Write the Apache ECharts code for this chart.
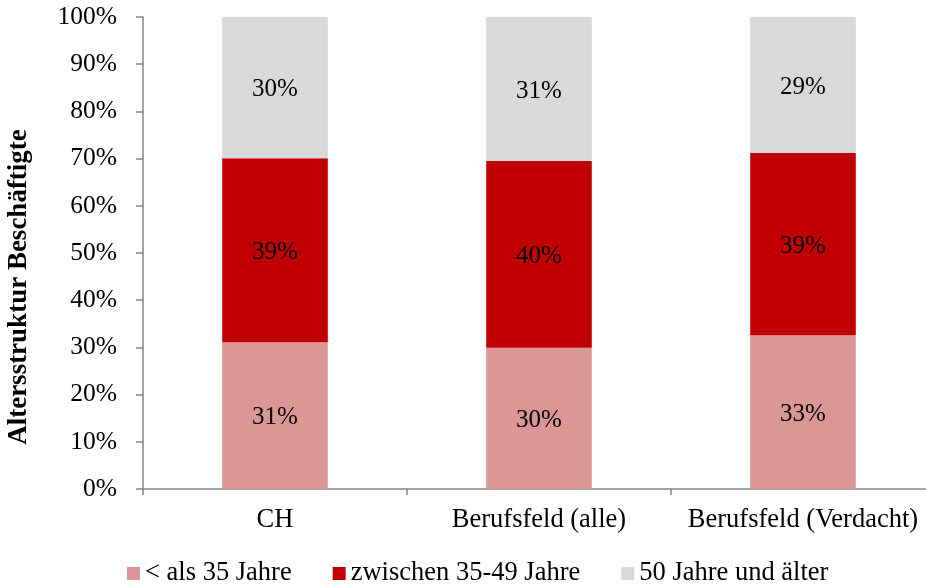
<!DOCTYPE html>
<html>
<head>
<meta charset="utf-8">
<script src="https://cdn.jsdelivr.net/npm/echarts@6/dist/echarts.min.js"></script>
<style>
  html, body { margin: 0; padding: 0; background: #fff; }
  #chart { width: 926px; height: 586px; }
</style>
</head>
<body>
<div id="chart"></div>
<script>
// categories and shares (in %)
const categories = ["CH", "Berufsfeld (alle)", "Berufsfeld (Verdacht)"];
const seriesNames = ["< als 35 Jahre", "zwischen 35-49 Jahre", "50 Jahre und älter"];
const unter35 = [31.1, 29.9, 32.6];
const zwischen35bis49 = [39.0, 39.6, 38.6];
const ab50 = [29.9, 30.5, 28.8];
const colors = ["#D99694", "#C00000", "#D9D9D9"];

const font = '"Liberation Serif", "Times New Roman", serif';
const axisColor = "#868686";

const makeSeries = (name, data, color) => ({
  name: name,
  type: "bar",
  stack: "total",
  barWidth: "40%",
  data: data,
  itemStyle: { color: color },
  label: {
    show: true,
    position: "inside",
    offset: [0, 2],
    color: "#000",
    fontFamily: font,
    fontSize: 25,
    formatter: (p) => Math.round(p.value) + "%",
  },
});

const myChart = echarts.init(document.getElementById("chart"));
myChart.setOption({
  animation: false,
  textStyle: { fontFamily: font },
  // plot runs a little past the right edge, as in the original
  grid: { left: 143, top: 17, height: 472, width: 792, outerBoundsMode: "none" },
  legend: {
    top: 555,
    left: 122,
    icon: "rect",
    itemWidth: 13,
    itemHeight: 13,
    itemGap: 41,
    textStyle: { fontFamily: font, fontSize: 26.5, color: "#000" },
    data: seriesNames,
  },
  xAxis: {
    type: "category",
    data: categories,
    axisLine: { lineStyle: { color: axisColor, width: 1.5 } },
    axisTick: { show: true, length: 6, lineStyle: { color: axisColor, width: 1.5 } },
    axisLabel: {
      color: "#000",
      fontFamily: font,
      fontSize: 26.5,
      margin: 18,
      interval: 0,
      hideOverlap: false,
    },
  },
  yAxis: {
    type: "value",
    min: 0,
    max: 100,
    interval: 10,
    name: "Altersstruktur Beschäftigte",
    nameLocation: "middle",
    nameGap: 110,
    nameTextStyle: {
      fontFamily: font,
      fontSize: 27,
      fontWeight: "bold",
      color: "#000",
      padding: [0, 68, 0, 0],
    },
    splitLine: { show: false },
    axisLine: { show: true, lineStyle: { color: axisColor, width: 1.5 } },
    axisTick: { show: true, length: 7, lineStyle: { color: axisColor, width: 1.5 } },
    axisLabel: {
      color: "#000",
      fontFamily: font,
      fontSize: 25.5,
      margin: 26,
      formatter: "{value}%",
    },
  },
  series: [
    makeSeries(seriesNames[0], unter35, colors[0]),
    makeSeries(seriesNames[1], zwischen35bis49, colors[1]),
    makeSeries(seriesNames[2], ab50, colors[2]),
  ],
});
window.onresize = myChart.resize;
</script>
</body>
</html>
